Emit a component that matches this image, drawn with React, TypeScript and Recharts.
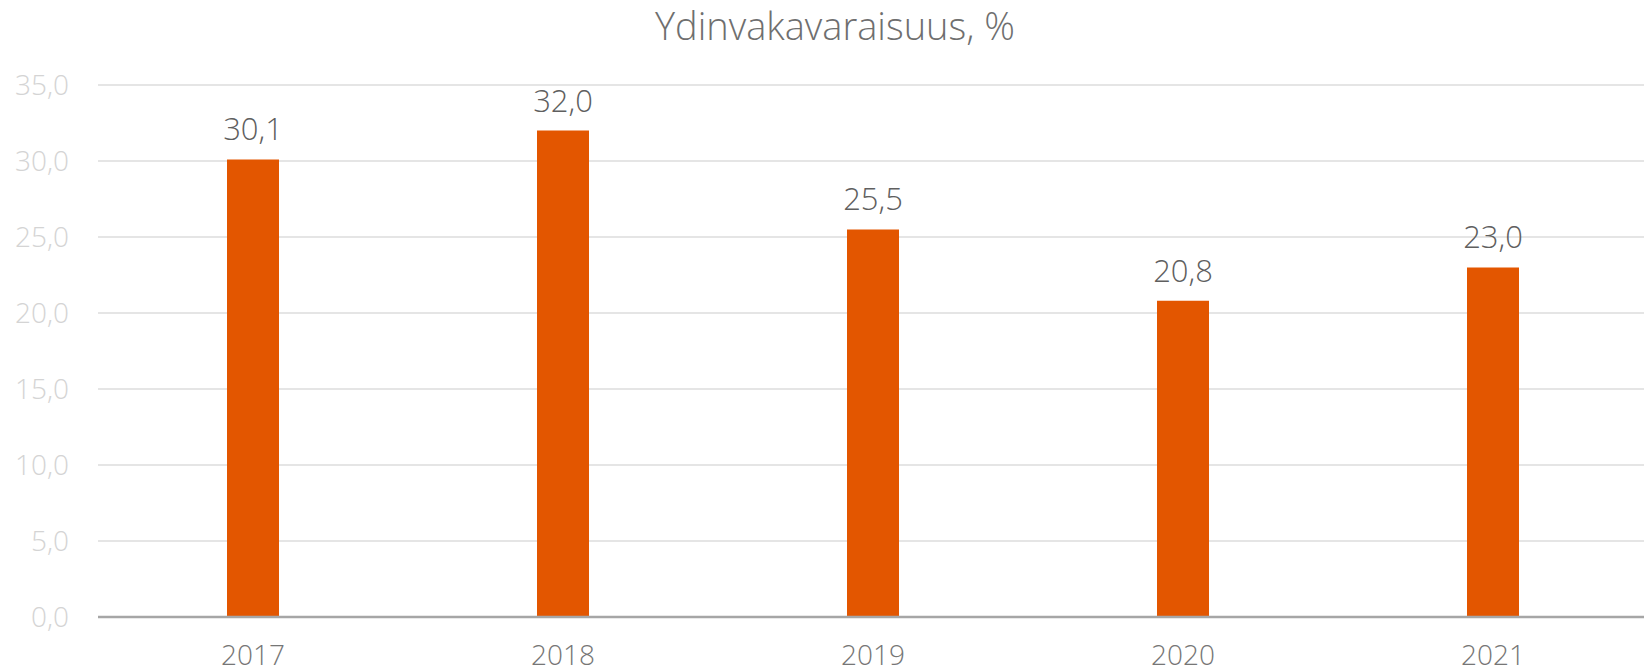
import { BarChart, Bar, XAxis, YAxis, CartesianGrid, LabelList } from "recharts";

const years = ["2017", "2018", "2019", "2020", "2021"];
const ratio = [30.1, 32.0, 25.5, 20.8, 23.0];
const yTicks = [0, 5, 10, 15, 20, 25, 30, 35];

const chartData = years.map((year, i) => ({ year, value: ratio[i] }));

const fmt = (v: number) => v.toFixed(1).replace(".", ",");

const FONT = "'Open Sans', sans-serif";

export default function App() {
  return (
    <div
      style={{
        position: "absolute",
        left: 0,
        top: 0,
        width: 1644,
        height: 671,
        overflow: "hidden",
        background: "#fff",
        fontFamily: FONT,
      }}
    >
      <div
        style={{
          position: "absolute",
          left: 26,
          top: 3,
          width: 1618,
          textAlign: "center",
          fontSize: 38,
          lineHeight: "44px",
          fontWeight: 300,
          color: "#6f6f6f",
        }}
      >
        Ydinvakavaraisuus, %
      </div>
      <BarChart
        width={1644}
        height={671}
        data={chartData}
        margin={{ top: 85, right: -4, bottom: 0, left: 0 }}
        barCategoryGap={0}
      >
        <CartesianGrid stroke="#dcdcdc" strokeWidth={1.5} vertical={false} />
        <XAxis
          dataKey="year"
          height={54}
          axisLine={{ stroke: "#a6a6a6", strokeWidth: 2.5 }}
          tickLine={false}
          tickSize={0}
          tickMargin={28}
          tick={{ fontSize: 28, fill: "#767676", fontFamily: FONT, fontWeight: 300 }}
        />
        <YAxis
          width={98}
          domain={[0, 35]}
          ticks={yTicks}
          interval={0}
          axisLine={false}
          tickLine={false}
          tickSize={0}
          tickMargin={29}
          tickFormatter={fmt}
          tick={{ fontSize: 28, fill: "#d4d4d4", fontFamily: FONT, fontWeight: 300 }}
        />
        <Bar dataKey="value" fill="#e35600" barSize={52} isAnimationActive={false}>
          <LabelList
            dataKey="value"
            position="top"
            offset={19}
            formatter={(v: number) => fmt(v)}
            style={{ fontSize: 31, fill: "#5f5f5f", fontFamily: FONT, fontWeight: 300 }}
          />
        </Bar>
      </BarChart>
    </div>
  );
}
